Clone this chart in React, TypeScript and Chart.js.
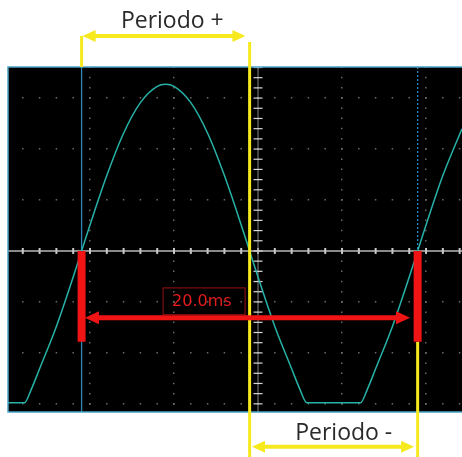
import React, { useEffect, useRef } from 'react';
import { Chart, registerables } from 'chart.js';

Chart.register(...registerables);

// Waveform: time in ms (screen centre = 0, 5 ms/div)
const WAVE_T = [-14.88, -13.9, -13.5, -13.0, -12.0, -11.0, -10.5, -10.0, -9.0, -8.0, -7.0, -6.0, -5.5, -5.0, -4.0, -3.0, -2.0, -1.0, -0.5, 0.0, 1.0, 2.0, 2.5, 2.9, 6.1, 6.5, 7.0, 8.0, 9.0, 9.5, 10.0, 11.0, 12.14];
// Amplitude in divisions
const WAVE_V = [-2.98, -2.98, -2.72, -2.31, -1.48, -0.51, 0, 0.51, 1.48, 2.31, 2.91, 3.23, 3.27, 3.23, 2.91, 2.31, 1.48, 0.51, 0, -0.51, -1.48, -2.31, -2.72, -2.98, -2.98, -2.72, -2.31, -1.48, -0.51, 0, 0.51, 1.48, 2.4];

// Visible window of the screen
const X_MIN = -14.88;
const X_MAX = 12.14;
const Y_MIN = -3.16;
const Y_MAX = 3.61;
const X_DIV = 5;
const Y_DIV = 1;
const X_MINOR = 1;
const Y_MINOR = 0.2;

// Cursors (ms)
const CURSOR_A = -10.5;
const CURSOR_B = 9.5;
const CURSOR_MID = -0.5;

// Texts
const PERIOD_TEXT = '20.0ms';
const LABEL_POS = 'Periodo +';
const LABEL_NEG = 'Periodo -';

// Annotation anchors (in chart units)
const RED_BAR_BOTTOM = -1.78;
const RED_ARROW_Y = -1.31;
const RED_ARROW_X = [-10.3, 9.05];
const RED_BOX_X = [-5.65, -0.77];
const RED_BOX_Y = [-0.725, -1.25];
const TOP_ARROW_Y = 4.22;
const TOP_ARROW_X = [CURSOR_A, -0.75];
const MID_LINE_Y = [4.1, -4.1];
const BOTTOM_ARROW_Y = -3.84;
const BOTTOM_ARROW_X = [-0.36, 9.29];
const LABEL_POS_AT = [-5.1, 4.37];
const LABEL_NEG_AT = [5.1, -3.7];

const YELLOW = '#f6ea1e';
const RED = '#f01414';
const CURSOR_BLUE = '#2f86b8';

function head(ctx: CanvasRenderingContext2D, x: number, y: number, dir: number, len: number, half: number) {
  ctx.beginPath();
  ctx.moveTo(x, y);
  ctx.lineTo(x - dir * len, y - half);
  ctx.lineTo(x - dir * len, y + half);
  ctx.closePath();
  ctx.fill();
}

function doubleArrow(ctx: CanvasRenderingContext2D, x1: number, x2: number, y: number, color: string, w: number, len: number, half: number) {
  ctx.save();
  ctx.strokeStyle = color;
  ctx.fillStyle = color;
  ctx.lineWidth = w;
  ctx.beginPath();
  ctx.moveTo(x1 + len - 1, y);
  ctx.lineTo(x2 - len + 1, y);
  ctx.stroke();
  head(ctx, x1, y, -1, len, half);
  head(ctx, x2, y, 1, len, half);
  ctx.restore();
}

function vline(ctx: CanvasRenderingContext2D, x: number, y1: number, y2: number, color: string, w: number, dash: number[] = []) {
  ctx.save();
  ctx.strokeStyle = color;
  ctx.lineWidth = w;
  ctx.setLineDash(dash);
  ctx.beginPath();
  ctx.moveTo(x, y1);
  ctx.lineTo(x, y2);
  ctx.stroke();
  ctx.restore();
}

const scopePlugin = {
  id: 'scope',
  beforeDraw(chart: any) {
    const { ctx, chartArea: a } = chart;
    ctx.save();
    ctx.fillStyle = '#000';
    ctx.fillRect(a.left, a.top, a.right - a.left, a.bottom - a.top);
    ctx.restore();
  },
  beforeDatasetsDraw(chart: any) {
    const { ctx, chartArea: a, scales } = chart;
    const xs = scales.x;
    const ys = scales.y;
    const cx = xs.getPixelForValue(0);
    const cy = ys.getPixelForValue(0);
    ctx.save();
    // centre horizontal axis
    ctx.strokeStyle = '#b8b8b8';
    ctx.lineWidth = 1.5;
    ctx.beginPath();
    ctx.moveTo(a.left, cy);
    ctx.lineTo(a.right, cy);
    ctx.stroke();
    ctx.fillStyle = '#c8c8c8';
    for (let t = Math.ceil(X_MIN / X_MINOR) * X_MINOR; t <= X_MAX; t += X_MINOR) {
      const px = xs.getPixelForValue(t);
      ctx.fillRect(px - 1, cy - 3, 2, 6);
    }
    // centre vertical axis
    ctx.strokeStyle = '#8a8a8a';
    ctx.lineWidth = 1;
    ctx.beginPath();
    ctx.moveTo(cx, a.top);
    ctx.lineTo(cx, a.bottom);
    ctx.stroke();
    ctx.strokeStyle = '#d8d8d8';
    ctx.lineWidth = 1.2;
    for (let v = Math.ceil(Y_MIN / Y_MINOR) * Y_MINOR; v <= Y_MAX; v += Y_MINOR) {
      const py = ys.getPixelForValue(v);
      ctx.beginPath();
      ctx.moveTo(cx - 4.5, py);
      ctx.lineTo(cx + 4.5, py);
      ctx.stroke();
    }
    ctx.restore();
    // cursors
    const pa = xs.getPixelForValue(CURSOR_A);
    const pb = xs.getPixelForValue(CURSOR_B);
    vline(ctx, pa, a.top, a.bottom, CURSOR_BLUE, 1.3);
    vline(ctx, pb, a.top, cy, CURSOR_BLUE, 1.3, [2, 2]);
  },
  afterDatasetsDraw(chart: any) {
    const { ctx, chartArea: a, scales } = chart;
    const xs = scales.x;
    const ys = scales.y;
    const X = (v: number) => xs.getPixelForValue(v);
    const Y = (v: number) => ys.getPixelForValue(v);
    const cy = Y(0);
    const pa = X(CURSOR_A);
    const pb = X(CURSOR_B);

    // screen border
    ctx.save();
    ctx.strokeStyle = '#4aa3c8';
    ctx.lineWidth = 1.5;
    ctx.beginPath();
    ctx.moveTo(a.right, a.top);
    ctx.lineTo(a.left, a.top);
    ctx.lineTo(a.left, a.bottom);
    ctx.lineTo(a.right, a.bottom);
    ctx.stroke();
    ctx.restore();

    // yellow brackets
    vline(ctx, pa, Y(TOP_ARROW_Y), a.top, YELLOW, 3);
    vline(ctx, X(CURSOR_MID), Y(MID_LINE_Y[0]), Y(MID_LINE_Y[1]), YELLOW, 3);
    vline(ctx, pb, Y(RED_BAR_BOTTOM), Y(MID_LINE_Y[1]), YELLOW, 3);
    doubleArrow(ctx, X(TOP_ARROW_X[0]) + 1, X(TOP_ARROW_X[1]), Y(TOP_ARROW_Y), YELLOW, 4, 13, 6);
    doubleArrow(ctx, X(BOTTOM_ARROW_X[0]), X(BOTTOM_ARROW_X[1]), Y(BOTTOM_ARROW_Y), YELLOW, 4, 13, 6);

    // red measurement
    vline(ctx, pa, cy, Y(RED_BAR_BOTTOM), RED, 8);
    vline(ctx, pb, cy, Y(RED_BAR_BOTTOM), RED, 8);
    doubleArrow(ctx, X(RED_ARROW_X[0]), X(RED_ARROW_X[1]), Y(RED_ARROW_Y), RED, 5, 14, 6.5);

    ctx.save();
    ctx.strokeStyle = '#9a1010';
    ctx.lineWidth = 1;
    const bx1 = X(RED_BOX_X[0]);
    const bx2 = X(RED_BOX_X[1]);
    const by1 = Y(RED_BOX_Y[0]);
    const by2 = Y(RED_BOX_Y[1]);
    ctx.strokeRect(bx1, by1, bx2 - bx1, by2 - by1);
    ctx.fillStyle = '#e51c1c';
    ctx.font = '16px "DejaVu Sans"';
    ctx.textAlign = 'left';
    ctx.textBaseline = 'middle';
    ctx.fillText(PERIOD_TEXT, bx1 + 9, (by1 + by2) / 2 + 1);
    ctx.restore();

    // labels
    ctx.save();
    ctx.fillStyle = '#2a2a2a';
    ctx.font = '23px "Open Sans"';
    ctx.textAlign = 'center';
    ctx.textBaseline = 'alphabetic';
    ctx.fillText(LABEL_POS, X(LABEL_POS_AT[0]), Y(LABEL_POS_AT[1]));
    ctx.fillText(LABEL_NEG, X(LABEL_NEG_AT[0]), Y(LABEL_NEG_AT[1]));
    ctx.restore();
  },
};

export default function App() {
  const ref = useRef<HTMLCanvasElement | null>(null);

  useEffect(() => {
    if (!ref.current) return;
    const points = WAVE_T.map((t, i) => ({ x: t, y: WAVE_V[i] }));
    const gridDot = 'rgba(125,125,125,0.85)';
    const chart = new Chart(ref.current, {
      type: 'line',
      data: {
        datasets: [
          {
            data: points,
            borderColor: '#27b3a8',
            borderWidth: 1.5,
            pointRadius: 0,
            cubicInterpolationMode: 'monotone',
            fill: false,
          },
        ],
      },
      options: {
        animation: false,
        responsive: false,
        events: [],
        layout: { padding: { left: 8, right: 0, top: 67, bottom: 45 } },
        plugins: { legend: { display: false }, tooltip: { enabled: false } },
        scales: {
          x: {
            type: 'linear',
            min: X_MIN,
            max: X_MAX,
            afterFit: (s: any) => {
              s.height = 0;
            },
            ticks: { display: false, stepSize: X_DIV, includeBounds: false },
            grid: {
              drawTicks: false,
              color: (c: any) => (Math.abs(c.tick?.value ?? 1) < 1e-9 ? 'rgba(0,0,0,0)' : gridDot),
              lineWidth: 1.5,
            },
            border: { display: false, dash: [1.5, 8.7], dashOffset: 0.4 },
          },
          y: {
            type: 'linear',
            min: Y_MIN,
            max: Y_MAX,
            afterFit: (s: any) => {
              s.width = 0;
            },
            ticks: { display: false, stepSize: Y_DIV, includeBounds: false },
            grid: {
              drawTicks: false,
              color: (c: any) => (Math.abs(c.tick?.value ?? 1) < 1e-9 ? 'rgba(0,0,0,0)' : gridDot),
              lineWidth: 1.5,
            },
            border: { display: false, dash: [1.5, 15.3], dashOffset: 2.75 },
          },
        },
      },
      plugins: [scopePlugin],
    } as any);
    return () => chart.destroy();
  }, []);

  return (
    <div style={{ position: 'fixed', left: 0, top: 0, width: 462, height: 457, background: '#fff' }}>
      <canvas ref={ref} width={462} height={457} style={{ display: 'block', width: 462, height: 457 }} />
    </div>
  );
}
